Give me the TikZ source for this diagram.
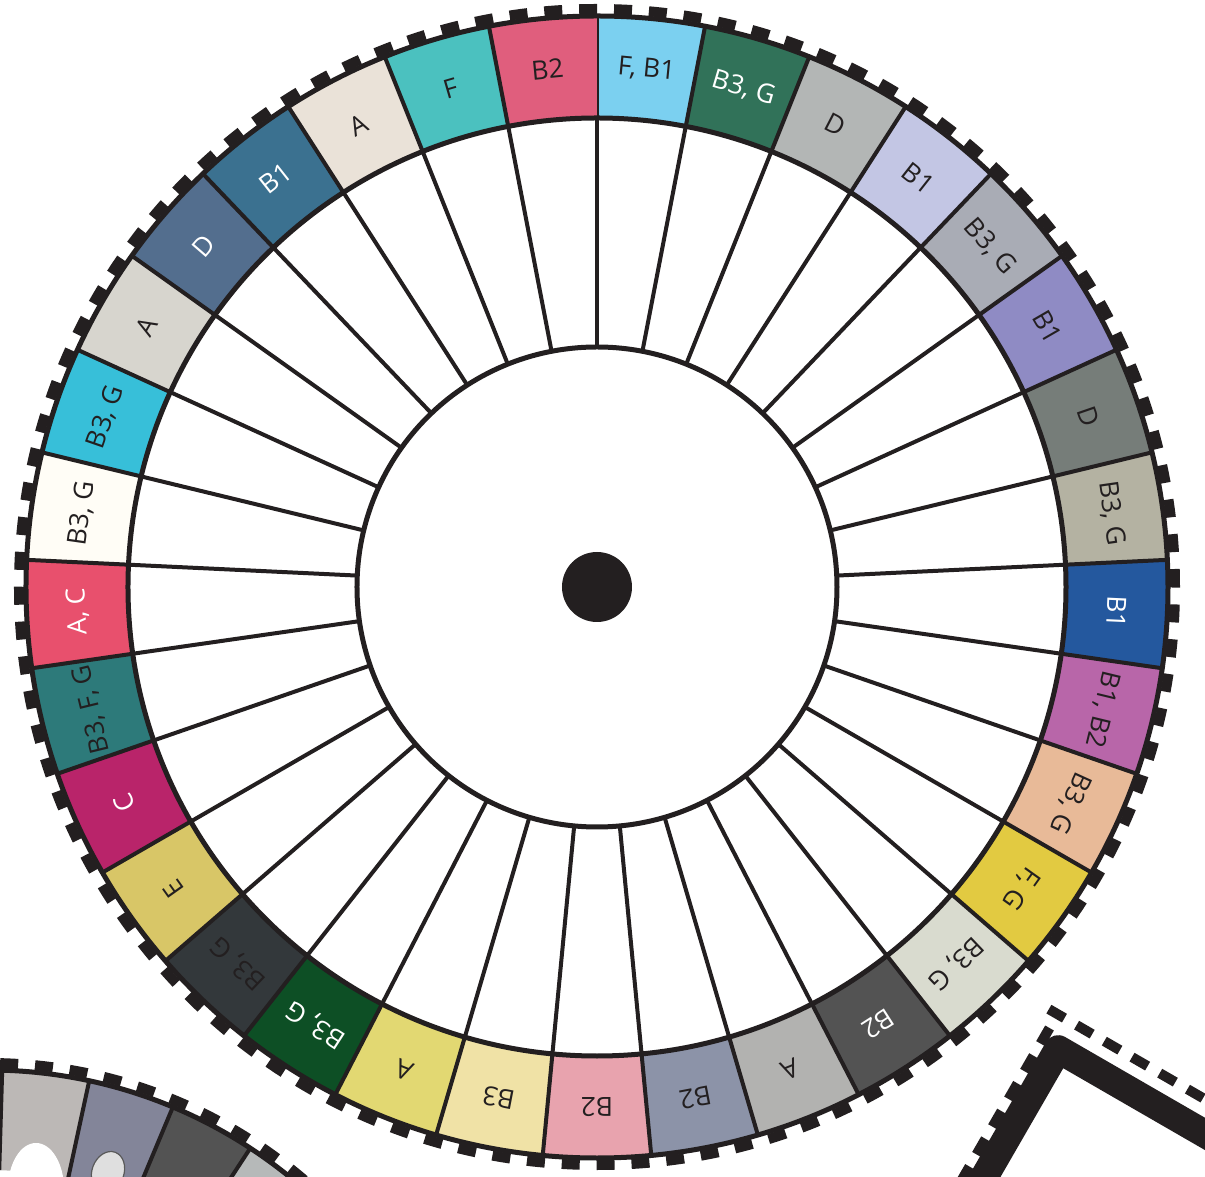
\documentclass[tikz,border=0pt]{standalone}
\usepackage{fontspec}
\setmainfont{Open Sans}

\definecolor{ink}{HTML}{231F20}
\definecolor{sky}{HTML}{7BD0F0}
\definecolor{pine}{HTML}{317259}
\definecolor{ash}{HTML}{B3B6B5}
\definecolor{lilac}{HTML}{C3C6E4}
\definecolor{pewter}{HTML}{A9ACB5}
\definecolor{iris}{HTML}{8F8BC4}
\definecolor{moss}{HTML}{767D79}
\definecolor{taupe}{HTML}{B4B2A2}
\definecolor{cobalt}{HTML}{24589E}
\definecolor{orchid}{HTML}{B866A9}
\definecolor{peach}{HTML}{E8BA98}
\definecolor{mustard}{HTML}{E2CA41}
\definecolor{sage}{HTML}{D9DBCF}
\definecolor{graphite}{HTML}{535353}
\definecolor{silver}{HTML}{B2B2B0}
\definecolor{steel}{HTML}{8C93A8}
\definecolor{blush}{HTML}{E8A3AE}
\definecolor{cream}{HTML}{F0E2A6}
\definecolor{citron}{HTML}{E2D872}
\definecolor{forest}{HTML}{0D4F25}
\definecolor{charcoal}{HTML}{33383B}
\definecolor{ochre}{HTML}{D8C667}
\definecolor{berry}{HTML}{B9246A}
\definecolor{lagoon}{HTML}{2D7A7A}
\definecolor{coral}{HTML}{E8506D}
\definecolor{ivory}{HTML}{FFFDF6}
\definecolor{aqua}{HTML}{37BFD9}
\definecolor{stone}{HTML}{D7D5CE}
\definecolor{denim}{HTML}{536E8E}
\definecolor{petrol}{HTML}{3B7190}
\definecolor{linen}{HTML}{EAE2D8}
\definecolor{lagoonlight}{HTML}{4BC1BF}
\definecolor{raspberry}{HTML}{E05E7D}
% second wheel (only partly shown)
\definecolor{mist}{HTML}{BCB8B6}
\definecolor{dusk}{HTML}{838599}
\definecolor{smoke}{HTML}{B6B9B9}

\tikzset{
  spoke/.style={ink, line width=2pt},
  rim/.style={ink, line width=2.5pt},
  teeth/.style={ink, line width=5pt, dash pattern=on 9pt off 8.46pt},
  seglabel/.style={font=\fontsize{13.2}{15}\selectfont, inner sep=0pt},
}

\begin{document}
\begin{tikzpicture}[x=0.5pt, y=0.5pt]
  \useasboundingbox (-597,-590) rectangle (608,587);
  \begin{scope}
    \clip (-597,-590) rectangle (608,587);

    % ---- second wheel, bottom left ----
    \begin{scope}[shift={(-609,-962)}]
      \foreach \c [count=\k from 0] in {mist, dusk, graphite, smoke} {
        \pgfmathsetmacro{\a}{88.3-\k*10.5}
        \pgfmathsetmacro{\b}{\a-10.5}
        \fill[\c] (\a:379) -- (\a:479) arc[start angle=\a, end angle=\b, radius=479]
          -- (\b:379) arc[start angle=\b, end angle=\a, radius=379] -- cycle;
        \draw[spoke] (\a:379) -- (\a:479);
      }
      \draw[rim] (0,0) circle (479);
      \draw[teeth] (0,0) circle (486);
    \end{scope}
    \fill[white] (-561,-602) ellipse (28 and 46);
    \filldraw[fill=gray!25, draw=gray!70!black, line width=0.6pt, rotate around={-20:(-489,-585)}]
      (-489,-585) ellipse (16 and 21);

    % ---- square frame, bottom right ----
    \begin{scope}[shift={(456,-443)}, rotate=-30]
      \draw[ink, line width=14pt, line join=round] (14,-600) -- (14,-14) -- (600,-14);
      \draw[ink, line width=5pt, dash pattern=on 9pt off 7pt] (-14,16) -- (600,16);
      \draw[ink, line width=5pt, dash pattern=on 9pt off 7pt] (-4,0) -- (-4,-600);
    \end{scope}
  \end{scope}

  % ---- coloured segments of the main wheel ----
  \foreach \t/\c/\w [count=\k from 0] in {
      {F, B1}/sky/ink, {B3, G}/pine/white, D/ash/ink, B1/lilac/ink,
      {B3, G}/pewter/ink, B1/iris/ink, D/moss/ink, {B3, G}/taupe/ink,
      B1/cobalt/white, {B1, B2}/orchid/ink, {B3, G}/peach/ink, {F, G}/mustard/ink,
      {B3, G}/sage/ink, B2/graphite/white, A/silver/ink, B2/steel/ink,
      B2/blush/ink, B3/cream/ink, A/citron/ink, {B3, G}/forest/white,
      {B3, G}/charcoal/ink, E/ochre/ink, C/berry/white, {B3, F, G}/lagoon/ink,
      {A, C}/coral/white, {B3, G}/ivory/ink, {B3, G}/aqua/ink, A/stone/ink,
      D/denim/white, B1/petrol/white, A/linen/ink, F/lagoonlight/ink,
      B2/raspberry/ink} {
    \pgfmathsetmacro{\a}{90-\k*360/33}
    \pgfmathsetmacro{\b}{\a-360/33}
    \pgfmathsetmacro{\m}{\a-180/33}
    \fill[\c] (\a:469) -- (\a:571) arc[start angle=\a, end angle=\b, radius=571]
      -- (\b:469) arc[start angle=\b, end angle=\a, radius=469] -- cycle;
    \draw[spoke] (\a:240) -- (\a:571);
    \node[seglabel, text=\w, rotate=\m-90] (seg\k) at (\m:520) {\t};
  }

  % ---- rims, teeth and hub ----
  \draw[rim] (0,0) circle (571);
  \draw[rim] (0,0) circle (469);
  \draw[teeth] (0,0) circle (578);
  \filldraw[rim, fill=white] (0,0) circle (240);
  \fill[ink] (0,0) circle (35);
\end{tikzpicture}
\end{document}
